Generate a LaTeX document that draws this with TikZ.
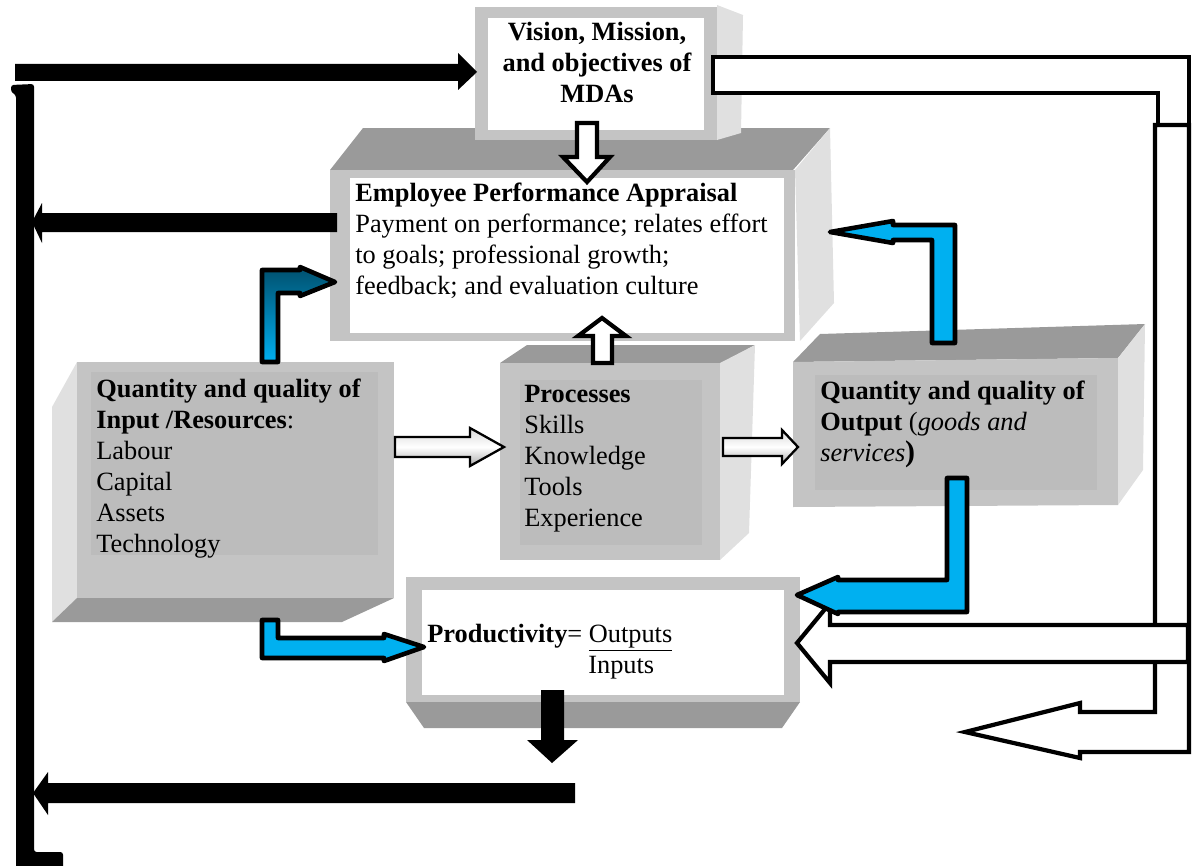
\documentclass[tikz,border=0pt]{standalone}
\usepackage{fontspec}
\setmainfont{Liberation Serif}
\definecolor{boxface}{HTML}{C4C4C4}
\definecolor{boxshade}{HTML}{BCBCBC}
\definecolor{bevdark}{HTML}{9A9A9A}
\definecolor{bevlight}{HTML}{E0E0E0}
\definecolor{arrblue}{HTML}{00B0F0}
\definecolor{arrnavy}{HTML}{00506E}
\begin{document}
\begin{tikzpicture}[x=0.02cm,y=-0.02cm]
\tikzset{txt/.style={font=\fontsize{15}{17.6}\selectfont,inner sep=0pt,align=left,anchor=north west},
  boxfront/.style={fill=boxface}, boxinner/.style={fill=boxshade},
  bevtop/.style={fill=bevdark}, bevside/.style={fill=bevlight},
  blackarr/.style={fill=black},
  hollow/.style={fill=white,draw=black,line width=2.4pt},
  bluearr/.style={fill=arrblue,draw=black,line width=2.6pt,line join=round},
  greyarr/.style={draw=black,line width=1.3pt,top color=gray!30,bottom color=gray!65,middle color=white}}
\useasboundingbox (0,0) rectangle (1192,865);
\clip (0,0) rectangle (1192,865);
% Employee appraisal box
\fill[bevtop] (330,170) -- (363,128) -- (830,128) -- (793,170) -- cycle;
\fill[boxfront] (330,170) rectangle (795,341);
\fill[bevside] (795,170) -- (830,128) -- (834,303) -- (800,341) -- cycle;
\fill[white] (350,178) rectangle (784,333);
% Vision box
\fill[boxfront] (475,7) rectangle (717,140);
\fill[bevside] (717,5) -- (743,15) -- (741,133) -- (717,140) -- cycle;
\fill[white] (488,18) rectangle (704,130);
% Input box
\fill[bevside] (77,362) -- (52,407) -- (52,622) -- (77,598) -- cycle;
\fill[boxfront] (77,362) rectangle (394,598);
\fill[boxinner] (91,372) rectangle (378,555);
\fill[bevtop] (77,598) -- (394,598) -- (342,622) -- (52,622) -- cycle;
% Processes box
\fill[bevtop] (500,363) -- (527,345) -- (755,345) -- (722,363) -- cycle;
\fill[boxfront] (500,363) rectangle (720,560);
\fill[bevside] (720,363) -- (755,345) -- (749,533) -- (720,560) -- cycle;
\fill[boxinner] (520,380) rectangle (702,545);
% Output box
\fill[bevtop] (793,362) -- (820,334) -- (1145,324) -- (1118,358) -- cycle;
\fill[boxfront] (793,362) -- (1118,358) -- (1118,505) -- (793,507) -- cycle;
\fill[bevside] (1118,358) -- (1145,324) -- (1143,470) -- (1118,505) -- cycle;
\fill[boxinner] (815,375) rectangle (1097,490);
% Productivity box
\fill[boxfront] (406,577) rectangle (800,702);
\fill[bevtop] (406,702) -- (800,702) -- (782,728) -- (424,728) -- cycle;
\fill[white] (422,590) rectangle (784,695);
% the texts
\node[txt,align=center,anchor=north,font=\fontsize{15}{17.6}\selectfont\bfseries] (vision) at (597,22) {Vision, Mission,\\and objectives of\\MDAs};
\node[txt] (appraisal) at (355,183) {\textbf{Employee Performance Appraisal}\\Payment on performance; relates effort\\to goals; professional growth;\\feedback; and evaluation culture};
\node[txt] (inputs) at (96,379) {\textbf{Quantity and quality of}\\\textbf{Input /Resources}:\\Labour\\Capital\\Assets\\Technology};
\node[txt] (processes) at (524,385) {\textbf{Processes}\\Skills\\Knowledge\\Tools\\Experience};
\node[txt] (outputs) at (820,381) {\textbf{Quantity and quality of}\\\textbf{Output} (\textit{goods and}\\\textit{services}{\fontsize{17}{17.6}\selectfont\textbf{)}}};
\node[txt,anchor=base west] (prodnum) at (427,642) {\textbf{Productivity}= \underline{Outputs}};
\node[txt,anchor=base west] (prodden) at (588,673) {Inputs};
% black feedback frame
\fill[blackarr] (15,64) -- (458,64) -- (458,53) -- (477,72) -- (458,90) -- (458,81) -- (15,81) -- cycle;
\fill[blackarr,rounded corners=1.5pt] (11,85) -- (34,84) -- (34,852) -- (63,852) -- (63,870) -- (16,870) -- (16,95) -- (11,92) -- cycle;
\fill[blackarr] (337,213) -- (42,213) -- (42,203) -- (32,222) -- (42,243) -- (42,232) -- (337,232) -- cycle;
\fill[blackarr] (575,783) -- (48,783) -- (48,772) -- (33,793) -- (48,815) -- (48,803) -- (575,803) -- cycle;
\fill[blackarr] (541,690) -- (564,690) -- (564,740) -- (578,740) -- (552,763) -- (527,740) -- (541,740) -- cycle;
% hollow arrows
\draw[hollow] (577,123) -- (597,123) -- (597,157) -- (610,157) -- (587,182) -- (563,157) -- (577,157) -- cycle;
\draw[hollow] (593,363) -- (612,363) -- (612,336) -- (626,336) -- (602,318) -- (578,336) -- (593,336) -- cycle;
\draw[hollow] (713,57) -- (1189,57) -- (1189,125) -- (1158,125) -- (1158,93) -- (713,93) -- cycle;
\draw[hollow] (1155,125) -- (1189,125) -- (1189,752) -- (1080,752) -- (1080,758) -- (965,732) -- (1080,703) -- (1080,712) -- (1155,712) -- cycle;
\draw[hollow] (1188,625) -- (1188,662) -- (830,662) -- (830,683) -- (797,643) -- (830,603) -- (830,625) -- cycle;
% grey arrows
\draw[greyarr] (395,437) -- (470,437) -- (470,428) -- (504,447) -- (470,466) -- (470,457) -- (395,457) -- cycle;
\draw[greyarr] (723,438) -- (782,438) -- (782,430) -- (798,447) -- (782,464) -- (782,456) -- (723,456) -- cycle;
% blue arrows
\draw[bluearr,top color=arrnavy,bottom color=arrblue] (262,362) -- (262,270) -- (300,270) -- (300,267) -- (335,282) -- (300,296) -- (300,293) -- (278,293) -- (278,362) -- cycle;
\draw[bluearr] (955,343) -- (955,225) -- (893,225) -- (893,221) -- (830,232) -- (893,243) -- (893,240) -- (932,240) -- (932,343) -- cycle;
\draw[bluearr] (947,478) -- (967,478) -- (967,612) -- (838,612) -- (838,614) -- (797,595) -- (838,577) -- (838,580) -- (947,580) -- cycle;
\draw[bluearr] (262,620) -- (262,658) -- (384,658) -- (384,661) -- (424,647) -- (384,634) -- (384,638) -- (278,638) -- (278,620) -- cycle;
\end{tikzpicture}
\end{document}
